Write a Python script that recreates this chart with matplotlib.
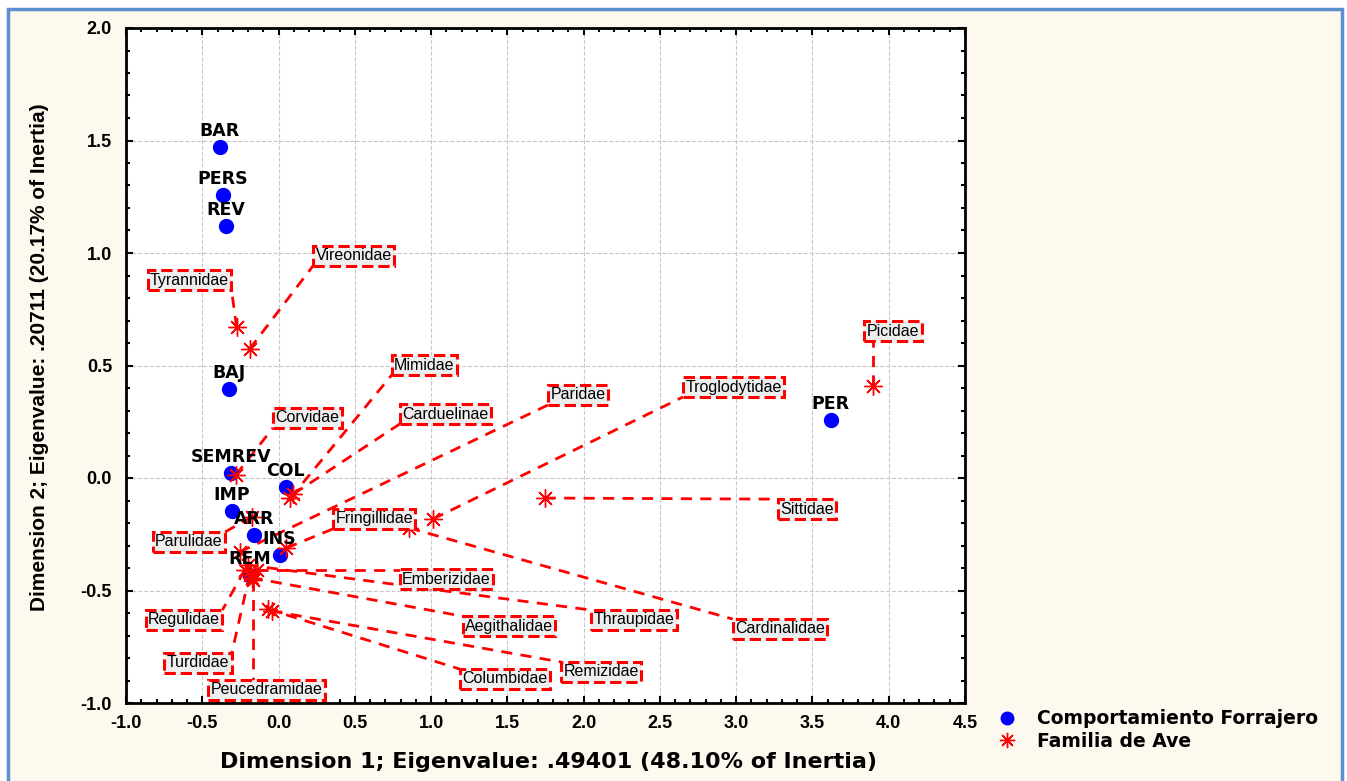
import matplotlib
matplotlib.use('Agg')
import matplotlib.pyplot as plt
from matplotlib.lines import Line2D
from matplotlib.patches import Rectangle
from matplotlib.ticker import MultipleLocator, FormatStrFormatter
import numpy as np

plt.rcParams['font.family'] = ['Liberation Sans', 'DejaVu Sans']
plt.rcParams['axes.unicode_minus'] = False

# Comportamiento Forrajero (column points)
comp_names = ['BAR', 'PERS', 'REV', 'BAJ', 'SEMREV', 'COL', 'IMP', 'ARR', 'INS', 'REM', 'PER']
comp_x = [-0.386, -0.366, -0.346, -0.327, -0.314, 0.046, -0.307, -0.163, 0.007, -0.19, 3.62]
comp_y = [1.471, 1.258, 1.120, 0.396, 0.022, -0.040, -0.147, -0.253, -0.342, -0.43, 0.258]

# Familia de Ave (row points)
fam_names = ['Tyrannidae', 'Vireonidae', 'Picidae', 'Corvidae', 'Mimidae', 'Carduelinae',
             'Sittidae', 'Cardinalidae', 'Troglodytidae', 'Parulidae', 'Paridae', 'Fringillidae',
             'Emberizidae', 'Thraupidae', 'Aegithalidae', 'Regulidae', 'Turdidae',
             'Peucedramidae', 'Columbidae', 'Remizidae']
fam_x = [-0.275, -0.19, 3.895, -0.281, 0.078, 0.098,
         1.745, 0.856, 1.013, -0.176, -0.255, 0.052,
         -0.144, -0.203, -0.176, -0.222, -0.19,
         -0.17, -0.072, -0.046]
fam_y = [0.671, 0.573, 0.409, 0.013, -0.089, -0.071,
         -0.089, -0.222, -0.182, -0.173, -0.329, -0.311,
         -0.409, -0.387, -0.444, -0.409, -0.431,
         -0.453, -0.582, -0.591]

# where the labels were placed (text left edge, middle)
lab_x = [-0.843, 0.242, 3.856, -0.02, 0.758, 0.81,
         3.288, 2.993, 2.667, -0.81, 1.784, 0.373,
         0.81, 2.065, 1.222, -0.856, -0.732,
         -0.444, 1.203, 1.869]
lab_y = [0.880, 0.987, 0.653, 0.267, 0.502, 0.284,
         -0.138, -0.671, 0.404, -0.284, 0.369, -0.182,
         -0.449, -0.631, -0.658, -0.631, -0.822,
         -0.942, -0.893, -0.862]

W, H = 1347, 781
fig = plt.figure(figsize=(W / 100, H / 100), dpi=100)
fig.patch.set_facecolor('white')
fig.patches.append(Rectangle((8 / W, -0.02), 1334 / W, 1 - 9 / H + 0.02,
                             transform=fig.transFigure, fc='#fef9ee', ec='#5b8fd0',
                             lw=2.5, zorder=-10))

ax = fig.add_axes([126 / W, 1 - 703 / H, 839 / W, 675 / H])
ax.set_facecolor('white')
ax.set_xlim(-1.0, 4.5)
ax.set_ylim(-1.0, 2.0)
ax.xaxis.set_major_locator(MultipleLocator(0.5))
ax.yaxis.set_major_locator(MultipleLocator(0.5))
ax.xaxis.set_minor_locator(MultipleLocator(0.1))
ax.yaxis.set_minor_locator(MultipleLocator(0.1))
ax.xaxis.set_major_formatter(FormatStrFormatter('%.1f'))
ax.yaxis.set_major_formatter(FormatStrFormatter('%.1f'))
ax.tick_params(which='both', direction='in', top=True, right=True, width=1.5,
               labelsize=13)
ax.tick_params(which='major', length=5)
ax.tick_params(which='minor', length=3)
ax.tick_params(axis='y', pad=10)
ax.tick_params(axis='x', pad=9)
for lab in ax.get_xticklabels() + ax.get_yticklabels():
    lab.set_fontweight('bold')
for s in ax.spines.values():
    s.set_linewidth(2)
ax.grid(True, color='#c8c8c8', ls='--', lw=0.8)
ax.set_axisbelow(True)

ast = (8, 2, 0)

ax.plot(comp_x, comp_y, ls='none', marker='o', color='blue', ms=10, zorder=3)
ax.plot(fam_x, fam_y, ls='none', marker=ast, color='red', ms=13, mew=1, zorder=4)

for n, x, y in zip(comp_names, comp_x, comp_y):
    ax.annotate(n, (x, y), xytext=(0, 5), textcoords='offset points', ha='center',
                va='bottom', fontsize=12.5, fontweight='bold', family='DejaVu Sans',
                zorder=6)

texts = []
for n, lx, ly in zip(fam_names, lab_x, lab_y):
    t = ax.text(lx, ly, n, ha='left', va='center', fontsize=11.5, zorder=5,
                bbox=dict(boxstyle='square,pad=0.15', fc='#eeeeee', ec='red',
                          ls='--', lw=2.2))
    texts.append(t)

# leader lines from each point to the nearest spot of its label box
fig.canvas.draw()
r = fig.canvas.get_renderer()
inv = ax.transData.inverted()
for t, fx, fy in zip(texts, fam_x, fam_y):
    bb = t.get_bbox_patch().get_window_extent(r)
    (x0, y0), (x1, y1) = inv.transform([[bb.x0, bb.y0], [bb.x1, bb.y1]])
    cx = min(max(fx, x0), x1)
    cy = min(max(fy, y0), y1)
    ax.plot([fx, cx], [fy, cy], color='red', ls=(0, (4, 3)), lw=2, zorder=2.5)

fig.text(548 / W, 1 - 762 / H, 'Dimension 1; Eigenvalue: .49401 (48.10% of Inertia)',
         ha='center', va='center', fontsize=16, fontweight='bold', family='DejaVu Sans')
fig.text(40 / W, 1 - 357 / H, 'Dimension 2; Eigenvalue: .20711 (20.17% of Inertia)',
         ha='center', va='center', rotation=90, fontsize=15, fontweight='bold')

handles = [Line2D([], [], ls='none', marker='o', color='blue', ms=9),
           Line2D([], [], ls='none', marker=ast, color='red', ms=11, mew=1)]
fig.legend(handles, ['Comportamiento Forrajero', 'Familia de Ave'], loc='center left',
           bbox_to_anchor=(971 / W, 1 - 730 / H), frameon=False,
           prop=dict(weight='bold', size=13.5, family='DejaVu Sans'),
           handletextpad=0.6, labelspacing=0.2)

fig.savefig('out.png', dpi=100)
